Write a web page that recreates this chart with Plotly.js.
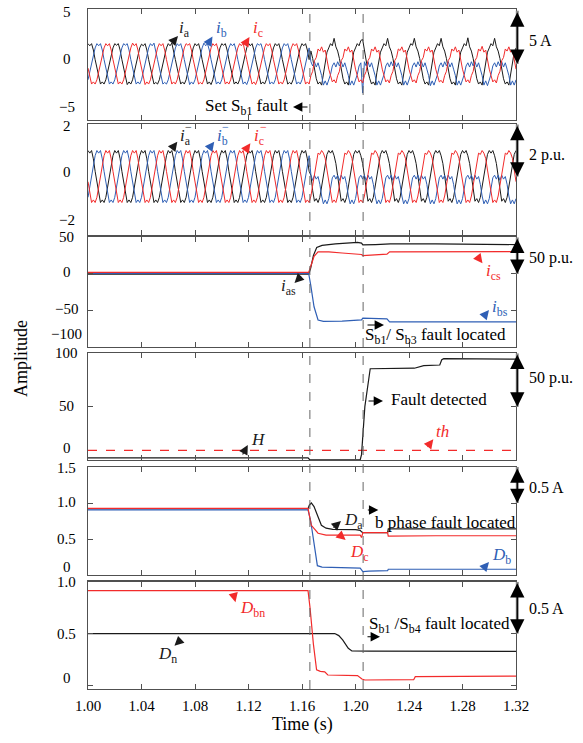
<!DOCTYPE html>
<html>
<head>
<meta charset="utf-8">
<script src="https://cdn.plot.ly/plotly-3.0.1.min.js"></script>
<style>html,body{margin:0;padding:0;background:#fff}#chart{width:583px;height:743px}</style>
</head>
<body>
<div id="chart"></div>
<script>
// ---------------- DATA ----------------
// sampling step of the phase-current waveforms (15 samples per 50 Hz cycle)
const DT = 0.02 / 15;
const T0 = 1.0;

// Panel 1: phase currents (A)
const ia1 = [
 1.9,1.7,1.9,1.3,0.4,-0.4,-1.3,-1.9,-1.7,-1.9,-1.5,-0.7,0,0.7,1.5,
 1.9,1.75,1.9,1.3,0.4,-0.4,-1.3,-1.95,-1.7,-1.9,-1.5,-0.7,0,0.7,1.5,
 1.85,1.7,1.9,1.3,0.4,-0.4,-1.3,-1.9,-1.75,-1.9,-1.5,-0.7,0,0.7,1.5,
 1.9,1.7,1.95,1.3,0.4,-0.4,-1.3,-1.9,-1.7,-1.9,-1.5,-0.7,0,0.7,1.5,
 1.9,1.7,1.9,1.3,0.4,-0.4,-1.3,-1.9,-1.7,-1.95,-1.5,-0.7,0,0.7,1.5,
 1.9,1.75,1.9,1.3,0.4,-0.4,-1.3,-1.9,-1.7,-1.9,-1.5,-0.7,0,0.7,1.5,
 1.95,1.7,1.9,1.3,0.4,-0.4,-1.3,-1.9,-1.7,-1.9,-1.5,-0.7,0,0.7,1.5,
 1.9,1.7,1.9,1.3,0.4,-0.4,-1.3,-1.9,-1.75,-1.9,-1.5,-0.7,0,0.7,1.5,
 1.9,1.7,1.9,1.3,0.4,
 1.2,0.5,-0.7,-1.4,-1.9,-1.7,-2.0,-0.8,0.4,1.1,
 1.5,1.9,1.7,2.4,1.6,1.2,0.5,-0.7,-1.4,-1.9,-1.7,-2.0,-0.8,0.4,1.1,
 1.5,1.9,1.7,2.2,2.3,1.2,0.5,-0.7,-1.4,-1.9,-1.7,-2.0,-0.8,0.4,1.1,
 1.5,1.9,1.7,2.4,1.6,1.2,0.5,-0.7,-1.4,-1.9,-1.7,-2.0,-0.8,0.4,1.1,
 1.5,1.9,1.75,2.4,1.6,1.2,0.5,-0.7,-1.4,-1.9,-1.7,-2.0,-0.8,0.4,1.1,
 1.5,1.9,1.7,2.4,1.6,1.2,0.5,-0.7,-1.4,-1.9,-1.7,-2.0,-0.8,0.4,1.1,
 1.5,1.9,1.7,2.45,1.6,1.2,0.5,-0.7,-1.4,-1.9,-1.7,-2.0,-0.8,0.4,1.1,
 1.5,1.9,1.7,2.4,1.6,1.2,0.5,-0.7,-1.4,-1.9,-1.7,-2.0,-0.8,0.4,1.1,
 1.5
];
const ib1 = [
 -1.5,-0.7,0,0.7,1.5,1.9,1.7,1.9,1.3,0.4,-0.4,-1.3,-1.9,-1.7,-1.9,
 -1.5,-0.7,0,0.7,1.5,1.9,1.75,1.9,1.3,0.4,-0.4,-1.3,-1.9,-1.7,-1.9,
 -1.5,-0.7,0,0.7,1.5,1.9,1.7,1.95,1.3,0.4,-0.4,-1.3,-1.9,-1.75,-1.9,
 -1.5,-0.7,0,0.7,1.5,1.9,1.7,1.9,1.3,0.4,-0.4,-1.3,-1.95,-1.7,-1.9,
 -1.5,-0.7,0,0.7,1.5,1.95,1.7,1.9,1.3,0.4,-0.4,-1.3,-1.9,-1.7,-1.9,
 -1.5,-0.7,0,0.7,1.5,1.9,1.7,1.9,1.3,0.4,-0.4,-1.3,-1.9,-1.7,-1.95,
 -1.5,-0.7,0,0.7,1.5,1.9,1.75,1.9,1.3,0.4,-0.4,-1.3,-1.9,-1.7,-1.9,
 -1.5,-0.7,0,0.7,1.5,1.9,1.7,1.9,1.3,0.4,-0.4,-1.3,-1.9,-1.7,-1.9,
 -1.5,-0.7,0,0.7,1.5,
 0.2,-0.2,0.2,-0.3,0.1,-0.5,-1.1,-2.0,-1.6,-2.0,
 -1.5,-1.0,-0.2,0.1,-0.3,0.2,-0.2,0.2,-0.3,0.1,-0.5,-1.1,-2.0,-1.6,-2.0,
 -1.5,-1.0,-0.2,0.1,-2.75,0.2,-0.2,0.2,-0.3,0.1,-0.5,-1.1,-2.0,-1.6,-2.0,
 -1.5,-1.0,-0.2,0.1,-0.3,0.2,-0.2,0.2,-0.3,0.1,-0.5,-1.1,-2.0,-1.6,-2.0,
 -1.5,-1.0,-0.2,0.1,-0.3,0.2,-0.2,0.2,-0.3,0.1,-0.5,-1.1,-2.05,-1.6,-2.0,
 -1.5,-1.0,-0.2,0.1,-0.3,0.2,-0.2,0.2,-0.3,0.1,-0.5,-1.1,-2.0,-1.6,-2.0,
 -1.5,-1.0,-0.2,0.1,-0.3,0.2,-0.2,0.2,-0.3,0.1,-0.5,-1.1,-2.0,-1.6,-2.05,
 -1.5,-1.0,-0.2,0.1,-0.3,0.2,-0.2,0.2,-0.3,0.1,-0.5,-1.1,-2.0,-1.6,-2.0,
 -1.5
];
const ic1 = [
 -0.4,-1.3,-1.9,-1.7,-1.9,-1.5,-0.7,0,0.7,1.5,1.9,1.7,1.9,1.3,0.4,
 -0.4,-1.3,-1.9,-1.7,-1.9,-1.5,-0.7,0,0.7,1.5,1.95,1.7,1.9,1.3,0.4,
 -0.4,-1.3,-1.95,-1.7,-1.9,-1.5,-0.7,0,0.7,1.5,1.9,1.7,1.9,1.3,0.4,
 -0.4,-1.3,-1.9,-1.7,-1.9,-1.5,-0.7,0,0.7,1.5,1.9,1.75,1.9,1.3,0.4,
 -0.4,-1.3,-1.9,-1.75,-1.9,-1.5,-0.7,0,0.7,1.5,1.9,1.7,1.9,1.3,0.4,
 -0.4,-1.3,-1.9,-1.7,-1.9,-1.5,-0.7,0,0.7,1.5,1.9,1.7,1.95,1.3,0.4,
 -0.4,-1.3,-1.9,-1.7,-1.95,-1.5,-0.7,0,0.7,1.5,1.9,1.7,1.9,1.3,0.4,
 -0.4,-1.3,-1.9,-1.7,-1.9,-1.5,-0.7,0,0.7,1.5,1.9,1.7,1.9,1.3,0.4,
 -0.4,-1.3,-1.9,-1.7,-1.9,
 -1.1,-0.7,0.3,0.6,1.4,1.2,1.6,1.1,1.3,0.3,
 -0.5,-1.1,-1.7,-1.5,-1.8,-1.1,-0.7,0.3,0.6,1.4,1.2,1.6,1.1,1.3,0.3,
 -0.5,-1.1,-1.7,-1.5,-1.8,-1.1,-0.7,0.3,0.6,1.4,1.2,1.6,1.1,1.3,0.3,
 -0.5,-1.1,-1.7,-1.5,-1.8,-1.1,-0.7,0.3,0.6,1.4,1.25,1.6,1.1,1.3,0.3,
 -0.5,-1.1,-1.7,-1.5,-1.8,-1.1,-0.7,0.3,0.6,1.4,1.2,1.6,1.1,1.3,0.3,
 -0.5,-1.1,-1.7,-1.55,-1.8,-1.1,-0.7,0.3,0.6,1.4,1.2,1.6,1.1,1.3,0.3,
 -0.5,-1.1,-1.7,-1.5,-1.8,-1.1,-0.7,0.3,0.6,1.4,1.2,1.65,1.1,1.3,0.3,
 -0.5,-1.1,-1.7,-1.5,-1.8,-1.1,-0.7,0.3,0.6,1.4,1.2,1.6,1.1,1.3,0.3,
 -0.5
];

// Panel 2: normalised phase currents (p.u.)
const ia2 = [
 1.0,0.9,1.0,0.68,0.2,-0.2,-0.68,-1.0,-0.9,-1.0,-0.8,-0.37,0,0.37,0.8,
 1.0,0.9,1.0,0.68,0.2,-0.2,-0.68,-1.0,-0.9,-1.0,-0.8,-0.37,0,0.37,0.8,
 1.0,0.9,1.0,0.68,0.2,-0.2,-0.68,-1.0,-0.9,-1.0,-0.8,-0.37,0,0.37,0.8,
 1.0,0.9,1.0,0.68,0.2,-0.2,-0.68,-1.0,-0.9,-1.0,-0.8,-0.37,0,0.37,0.8,
 1.0,0.9,1.0,0.68,0.2,-0.2,-0.68,-1.0,-0.9,-1.0,-0.8,-0.37,0,0.37,0.8,
 1.0,0.9,1.0,0.68,0.2,-0.2,-0.68,-1.0,-0.9,-1.0,-0.8,-0.37,0,0.37,0.8,
 1.0,0.9,1.0,0.68,0.2,-0.2,-0.68,-1.0,-0.9,-1.0,-0.8,-0.37,0,0.37,0.8,
 1.0,0.9,1.0,0.68,0.2,-0.2,-0.68,-1.0,-0.9,-1.0,-0.8,-0.37,0,0.37,0.8,
 1.0,0.9,1.0,0.68,0.2,
 0.05,-0.55,-0.95,-0.85,-1.0,-0.8,-0.4,0.05,0.45,0.85,
 1.0,0.9,1.0,0.8,0.5,0.05,-0.55,-0.95,-0.85,-1.0,-0.8,-0.4,0.05,0.45,0.85,
 1.0,0.9,1.0,0.8,0.5,0.05,-0.55,-0.95,-0.85,-1.0,-0.8,-0.4,0.05,0.45,0.85,
 1.0,0.9,1.0,0.8,0.5,0.05,-0.55,-0.95,-0.85,-1.0,-0.8,-0.4,0.05,0.45,0.85,
 1.0,0.9,1.0,0.8,0.5,0.05,-0.55,-0.95,-0.85,-1.0,-0.8,-0.4,0.05,0.45,0.85,
 1.0,0.9,1.0,0.8,0.5,0.05,-0.55,-0.95,-0.85,-1.0,-0.8,-0.4,0.05,0.45,0.85,
 1.0,0.9,1.0,0.8,0.5,0.05,-0.55,-0.95,-0.85,-1.0,-0.8,-0.4,0.05,0.45,0.85,
 1.0,0.9,1.0,0.8,0.5,0.05,-0.55,-0.95,-0.85,-1.0,-0.8,-0.4,0.05,0.45,0.85,
 1.0
];
const ib2 = [
 -0.8,-0.37,0,0.37,0.8,1.0,0.9,1.0,0.68,0.2,-0.2,-0.68,-1.0,-0.9,-1.0,
 -0.8,-0.37,0,0.37,0.8,1.0,0.9,1.0,0.68,0.2,-0.2,-0.68,-1.0,-0.9,-1.0,
 -0.8,-0.37,0,0.37,0.8,1.0,0.9,1.0,0.68,0.2,-0.2,-0.68,-1.0,-0.9,-1.0,
 -0.8,-0.37,0,0.37,0.8,1.0,0.9,1.0,0.68,0.2,-0.2,-0.68,-1.0,-0.9,-1.0,
 -0.8,-0.37,0,0.37,0.8,1.0,0.9,1.0,0.68,0.2,-0.2,-0.68,-1.0,-0.9,-1.0,
 -0.8,-0.37,0,0.37,0.8,1.0,0.9,1.0,0.68,0.2,-0.2,-0.68,-1.0,-0.9,-1.0,
 -0.8,-0.37,0,0.37,0.8,1.0,0.9,1.0,0.68,0.2,-0.2,-0.68,-1.0,-0.9,-1.0,
 -0.8,-0.37,0,0.37,0.8,1.0,0.9,1.0,0.68,0.2,-0.2,-0.68,-1.0,-0.9,-1.0,
 -0.8,-0.37,0,0.37,0.8,
 0.05,-0.15,0.05,-0.1,0.0,-0.3,-0.75,-1.05,-0.9,-1.05,
 -0.85,-0.45,-0.05,0.05,-0.1,0.05,-0.15,0.05,-0.1,0.0,-0.3,-0.75,-1.05,-0.9,-1.05,
 -0.85,-0.45,-0.05,0.05,-0.1,0.05,-0.15,0.05,-0.1,0.0,-0.3,-0.75,-1.05,-0.9,-1.05,
 -0.85,-0.45,-0.05,0.05,-0.1,0.05,-0.15,0.05,-0.1,0.0,-0.3,-0.75,-1.05,-0.9,-1.05,
 -0.85,-0.45,-0.05,0.05,-0.1,0.05,-0.15,0.05,-0.1,0.0,-0.3,-0.75,-1.05,-0.9,-1.05,
 -0.85,-0.45,-0.05,0.05,-0.1,0.05,-0.15,0.05,-0.1,0.0,-0.3,-0.75,-1.05,-0.9,-1.05,
 -0.85,-0.45,-0.05,0.05,-0.1,0.05,-0.15,0.05,-0.1,0.0,-0.3,-0.75,-1.05,-0.9,-1.05,
 -0.85,-0.45,-0.05,0.05,-0.1,0.05,-0.15,0.05,-0.1,0.0,-0.3,-0.75,-1.05,-0.9,-1.05,
 -0.85
];
const ic2 = [
 -0.2,-0.68,-1.0,-0.9,-1.0,-0.8,-0.37,0,0.37,0.8,1.0,0.9,1.0,0.68,0.2,
 -0.2,-0.68,-1.0,-0.9,-1.0,-0.8,-0.37,0,0.37,0.8,1.0,0.9,1.0,0.68,0.2,
 -0.2,-0.68,-1.0,-0.9,-1.0,-0.8,-0.37,0,0.37,0.8,1.0,0.9,1.0,0.68,0.2,
 -0.2,-0.68,-1.0,-0.9,-1.0,-0.8,-0.37,0,0.37,0.8,1.0,0.9,1.0,0.68,0.2,
 -0.2,-0.68,-1.0,-0.9,-1.0,-0.8,-0.37,0,0.37,0.8,1.0,0.9,1.0,0.68,0.2,
 -0.2,-0.68,-1.0,-0.9,-1.0,-0.8,-0.37,0,0.37,0.8,1.0,0.9,1.0,0.68,0.2,
 -0.2,-0.68,-1.0,-0.9,-1.0,-0.8,-0.37,0,0.37,0.8,1.0,0.9,1.0,0.68,0.2,
 -0.2,-0.68,-1.0,-0.9,-1.0,-0.8,-0.37,0,0.37,0.8,1.0,0.9,1.0,0.68,0.2,
 -0.2,-0.68,-1.0,-0.9,-1.0,
 -0.75,-0.35,0.1,0.5,0.9,0.85,1.0,0.9,0.7,0.25,
 -0.2,-0.6,-1.0,-0.9,-1.0,-0.75,-0.35,0.1,0.5,0.9,0.85,1.0,0.9,0.7,0.25,
 -0.2,-0.6,-1.0,-0.9,-1.0,-0.75,-0.35,0.1,0.5,0.9,0.85,1.0,0.9,0.7,0.25,
 -0.2,-0.6,-1.0,-0.9,-1.0,-0.75,-0.35,0.1,0.5,0.9,0.85,1.0,0.9,0.7,0.25,
 -0.2,-0.6,-1.0,-0.9,-1.0,-0.75,-0.35,0.1,0.5,0.9,0.85,1.0,0.9,0.7,0.25,
 -0.2,-0.6,-1.0,-0.9,-1.0,-0.75,-0.35,0.1,0.5,0.9,0.85,1.0,0.9,0.7,0.25,
 -0.2,-0.6,-1.0,-0.9,-1.0,-0.75,-0.35,0.1,0.5,0.9,0.85,1.0,0.9,0.7,0.25,
 -0.2,-0.6,-1.0,-0.9,-1.0,-0.75,-0.35,0.1,0.5,0.9,0.85,1.0,0.9,0.7,0.25,
 -0.2
];

// Panel 3: i_as, i_bs, i_cs (p.u.)
const tAs = [1.0, 1.165, 1.1665, 1.1685, 1.171, 1.175, 1.185, 1.195, 1.2015, 1.2045, 1.2055, 1.215, 1.2245, 1.226, 1.26, 1.3, 1.32];
const iAs = [-0.5, -0.5, 8, 25, 36, 39, 41, 42, 43, 42, 39.5, 40, 40.5, 41, 41, 40.5, 40];
const tCs = [1.0, 1.165, 1.1665, 1.169, 1.172, 1.18, 1.19, 1.2015, 1.2045, 1.2055, 1.215, 1.2235, 1.2255, 1.26, 1.32];
const iCs = [2, 2, 10, 24, 30, 30, 28.5, 27.5, 26.5, 25, 26.5, 27, 30, 30.5, 30.5];
const tBs = [1.0, 1.165, 1.1665, 1.169, 1.172, 1.176, 1.19, 1.2015, 1.2045, 1.2055, 1.215, 1.2235, 1.2255, 1.26, 1.32];
const iBs = [0.5, 0.5, -15, -45, -63, -65, -64.5, -64, -63, -60.5, -61, -61.5, -65.5, -65.5, -65.5];

// Panel 4: H and threshold th
const tH = [1.0, 1.1645, 1.166, 1.2035, 1.2045, 1.207, 1.211, 1.244, 1.251, 1.263, 1.2645, 1.266, 1.32];
const H  = [2, 2, 0, 0, 5, 50, 85.5, 86, 88.5, 89, 94, 95, 94.5];
const tTh = [1.0, 1.32];
const th  = [9, 9];

// Panel 5: D_a, D_b, D_c
const tDa = [1.0, 1.1645, 1.1655, 1.167, 1.169, 1.171, 1.1745, 1.178, 1.183, 1.2, 1.2035, 1.2045, 1.2055, 1.224, 1.2245, 1.26, 1.32];
const Da  = [0.92, 0.92, 0.97, 1.0, 0.95, 0.86, 0.69, 0.65, 0.635, 0.63, 0.62, 0.6, 0.59, 0.59, 0.64, 0.64, 0.64];
const tDc = [1.0, 1.1645, 1.167, 1.172, 1.178, 1.2035, 1.2045, 1.2055, 1.224, 1.2245, 1.26, 1.32];
const Dc  = [0.925, 0.925, 0.69, 0.58, 0.555, 0.555, 0.52, 0.59, 0.59, 0.54, 0.545, 0.545];
const tDb = [1.0, 1.1645, 1.1665, 1.169, 1.1715, 1.175, 1.2, 1.2035, 1.2055, 1.21, 1.224, 1.2245, 1.32];
const Db  = [0.905, 0.905, 0.75, 0.4, 0.13, 0.11, 0.105, 0.095, 0.046, 0.055, 0.06, 0.08, 0.08];

// Panel 6: D_bn and D_n
const tDbn = [1.0, 1.1645, 1.166, 1.1685, 1.1709, 1.1737, 1.177, 1.1793, 1.2015, 1.2048, 1.207, 1.2435, 1.2447, 1.32];
const Dbn  = [0.913, 0.913, 0.75, 0.4, 0.15, 0.135, 0.13, 0.1, 0.095, 0.062, 0.052, 0.055, 0.084, 0.09];
const tDn = [1.0, 1.1845, 1.1875, 1.1904, 1.1946, 1.1973, 1.21, 1.32];
const Dn  = [0.5, 0.5, 0.48, 0.438, 0.358, 0.332, 0.33, 0.327];

// event times (dashed markers)
const eventTimes = [1.1659, 1.2057];

// tick values and labels
const xTicks = [1.00, 1.04, 1.08, 1.12, 1.16, 1.20, 1.24, 1.28, 1.32];
const xTickText = ['1.00','1.04','1.08','1.12','1.16','1.20','1.24','1.28','1.32'];
const y1Ticks = [-5, 0, 5];        const y1Text = ['\u22125', '0', '5'];
const y2Ticks = [-2, 0, 2];        const y2Text = ['\u22122', '0', '2'];
const y3Ticks = [-100, -50, 0, 50]; const y3Text = ['\u2212100', '\u221250', '0', '50'];
const y4Ticks = [0, 50, 100];      const y4Text = ['0', '50', '100'];
const y5Ticks = [0, 0.5, 1.0, 1.5]; const y5Text = ['0', '0.5', '1.0', '1.5'];
const y6Ticks = [0, 0.5, 1.0];     const y6Text = ['0', '0.5', '1.0'];

// ---------------- STYLE / LAYOUT ----------------
const FONT = '"Liberation Serif", "Times New Roman", Times, "DejaVu Serif", serif';
const BLACK = '#1a1a1a', BLUE = '#2f5fb5', RED = '#f22b2b';
const tWave = ia1.map((_, k) => T0 + k * DT);

function tr(x, y, ax, color, w, dash) {
  return {x: x, y: y, xaxis: 'x' + ax, yaxis: 'y' + ax, type: 'scatter', mode: 'lines',
          line: {color: color, width: w || 1, dash: dash || 'solid'}, hoverinfo: 'skip'};
}
const data = [
  tr(tWave, ia1, '', BLACK), tr(tWave, ib1, '', BLUE), tr(tWave, ic1, '', RED),
  tr(tWave, ia2, 2, BLACK), tr(tWave, ib2, 2, BLUE), tr(tWave, ic2, 2, RED),
  tr(tAs, iAs, 3, BLACK, 1.2), tr(tBs, iBs, 3, BLUE, 1.2), tr(tCs, iCs, 3, RED, 1.2),
  tr(tTh, th, 4, RED, 1.2, 'dash'), tr(tH, H, 4, BLACK, 1.2),
  tr(tDa, Da, 5, BLACK, 1.2), tr(tDb, Db, 5, BLUE, 1.2), tr(tDc, Dc, 5, RED, 1.2),
  tr(tDn, Dn, 6, BLACK, 1.2), tr(tDbn, Dbn, 6, RED, 1.2)
];

const AX = '#505050';
function xa(n) {
  return {range: [1.0, 1.32], tickmode: 'array', tickvals: xTicks, ticktext: xTickText,
    ticks: 'inside', ticklen: 5, tickcolor: AX, tickwidth: 1,
    showline: true, linecolor: AX, linewidth: 1.3, mirror: 'ticks',
    showgrid: false, zeroline: false, showticklabels: n === 6,
    anchor: 'y' + (n === 1 ? '' : n), tickfont: {family: FONT, size: 15}, ticklabelstandoff: 3};
}
function ya(n, dom, rng, vals, showTicks) {
  return {domain: dom, range: rng, tickmode: 'array', tickvals: vals,
    ticks: showTicks ? 'inside' : '', ticklen: 5, tickcolor: AX,
    showline: true, linecolor: AX, linewidth: 1.3, mirror: 'ticks',
    showgrid: false, zeroline: false, anchor: 'x' + (n === 1 ? '' : n),
    showticklabels: false};
}

const layout = {
  width: 583, height: 743,
  margin: {l: 88, r: 67, t: 9, b: 54},
  paper_bgcolor: '#fff', plot_bgcolor: '#fff',
  showlegend: false,
  font: {family: FONT, size: 15, color: '#000'},
  xaxis: xa(1), xaxis2: xa(2), xaxis3: xa(3), xaxis4: xa(4), xaxis5: xa(5), xaxis6: xa(6),
  yaxis:  ya(1, [0.8368, 1.0],    [-5.28, 5.16], y1Ticks, false),
  yaxis2: ya(2, [0.6676, 0.8309], [-2.25, 2.02], y2Ticks, false),
  yaxis3: ya(3, [0.5029, 0.6643], [-100, 50],   y3Ticks, true),
  yaxis4: ya(4, [0.3368, 0.4937], [0, 100],     y4Ticks, true),
  yaxis5: ya(5, [0.1676, 0.3265], [0, 1.5],     y5Ticks, true),
  yaxis6: ya(6, [0, 0.1578],      [-0.035, 1.0], y6Ticks, true),
  shapes: [], annotations: []
};

// y tick labels (placed with each axis' scale; edge labels nudged inward as in the original)
const yLabelSets = [
  ['y',  y1Ticks, y1Text, [10, 5, -1]],
  ['y2', y2Ticks, y2Text, [8.5, 4.5, -1.5]],
  ['y3', y3Ticks, y3Text, [13, 1.5, 2, 0]],
  ['y4', y4Ticks, y4Text, [12, 0.7, 0]],
  ['y5', y5Ticks, y5Text, [8, 0, 1, -1]],
  ['y6', y6Ticks, y6Text, [7.4, 0, 0]]
];
yLabelSets.forEach(s => s[1].forEach((v, i) => layout.annotations.push({
  xref: 'paper', yref: s[0], x: -0.0502, y: v, yshift: s[3][i], xanchor: 'center', yanchor: 'middle',
  text: s[2][i], showarrow: false, font: {family: FONT, size: 15}})));

// dashed event lines across all panels
eventTimes.forEach(t => layout.shapes.push({type: 'line', xref: 'x', yref: 'paper', x0: t, x1: t, y0: 0, y1: 1,
  line: {color: '#666', width: 1, dash: 'dash'}, layer: 'above'}));

// scale bars on the right: [yref, low, high, pixel length, label, label paper y]
const scaleBars = [
  ['y', 0, 5, 53, '5 A', 0.9544],
  ['y2', 0, 2, 52, '2 p.u.', 0.7853],
  ['y3', 0, 50, 36.6, '50 p.u.', 0.6338],
  ['y4', 50, 100, 53.4, '50 p.u.', 0.4574],
  ['y5', 1.0, 1.5, 36, '0.5 A', 0.2956],
  ['y6', 0.5, 1.0, 51.8, '0.5 A', 0.1191]
];
scaleBars.forEach(s => {
  layout.shapes.push({type: 'line', xref: 'paper', yref: s[0], x0: 1.003, x1: 1.003, y0: s[1], y1: s[2],
    line: {color: '#8a8a8a', width: 3}, layer: 'above'});
  layout.annotations.push({xref: 'paper', yref: s[0], x: 1.003, y: s[1], ax: 0, ay: -s[3],
    axref: 'pixel', ayref: 'pixel', text: '', showarrow: true, arrowside: 'end+start',
    arrowhead: 2, startarrowhead: 2, arrowsize: 2.2, startarrowsize: 2.2, arrowwidth: 1.3, arrowcolor: '#000'});
  layout.annotations.push({xref: 'paper', yref: 'paper', x: 1.0257, y: s[5], xanchor: 'left', yanchor: 'middle',
    text: s[4], showarrow: false, font: {family: FONT, size: 16}});
});

function txt(x, y, text, color, size) {
  layout.annotations.push({xref: 'paper', yref: 'paper', x: x, y: y, xanchor: 'left', yanchor: 'middle',
    text: text, showarrow: false, font: {family: FONT, size: size || 16, color: color || '#000'}});
}
function arr(x, y, ax, ay, color) {
  layout.annotations.push({xref: 'paper', yref: 'paper', x: x, y: y, ax: ax, ay: ay, text: '',
    showarrow: true, arrowhead: 2, arrowsize: 1.7, arrowwidth: 1.1, arrowcolor: color || '#000', standoff: 0});
}

// Panel 1 labels
txt(0.2079, 0.9706, '<i>i</i><sub>a</sub>', BLACK, 17);
arr(0.2103, 0.9603, -7, 8, BLACK);
txt(0.2944, 0.9706, '<i>i</i><sub>b</sub>', BLUE, 17);
arr(0.2909, 0.9596, -5, 8, BLUE);
txt(0.3808, 0.9706, '<i>i</i><sub>c</sub>', RED, 17);
arr(0.3773, 0.9588, -5, 8, RED);
txt(0.2687, 0.8559, 'Set S<sub>b1</sub> fault', '#000', 17);
arr(0.4790, 0.8559, 16, 0, '#000');

// Panel 2 labels
txt(0.2103, 0.8118, '<i>i</i><sub>a</sub>', BLACK, 17);
txt(0.2230, 0.8270, '\u2212', BLACK, 12);
arr(0.2086, 0.8049, -6, 8, BLACK);
txt(0.2967, 0.8118, '<i>i</i><sub>b</sub>', BLUE, 17);
txt(0.3094, 0.8270, '\u2212', BLUE, 12);
arr(0.2949, 0.8049, -6, 8, BLUE);
txt(0.3843, 0.8118, '<i>i</i><sub>c</sub>', RED, 17);
txt(0.3970, 0.8270, '\u2212', RED, 12);
arr(0.3794, 0.8025, -5, 7, RED);

// Panel 3 labels
txt(0.4463, 0.5912, '<i>i</i><sub>as</sub>', BLACK, 17);
arr(0.4825, 0.5971, 8, -8, BLACK);
txt(0.9264, 0.6132, '<i>i</i><sub>cs</sub>', RED, 17);
arr(0.9217, 0.6260, -6, -8, RED);
txt(0.9393, 0.5603, '<i>i</i><sub>bs</sub>', BLUE, 17);
arr(0.9369, 0.5574, -6.5, 8, BLUE);
txt(0.6425, 0.5191, 'S<sub>b1</sub>/ S<sub>b3</sub> fault located', '#000', 17);
arr(0.6916, 0.5353, -18, 0, '#000');

// Panel 4 labels
txt(0.7033, 0.4250, 'Fault detected', '#000', 17);
arr(0.6893, 0.4235, -16, 0, '#000');
txt(0.3762, 0.3662, '<i>H</i>', BLACK, 17);
arr(0.3734, 0.3588, -6, 11, BLACK);
txt(0.8084, 0.3784, '<i>th</i>', RED, 17);
arr(0.8068, 0.3672, -7, 9, RED);

// Panel 5 labels
txt(0.5935, 0.2471, '<i>D</i><sub>a</sub>', BLACK, 17);
arr(0.5911, 0.2471, -9, 8, BLACK);
txt(0.6075, 0.2000, '<i>D</i><sub>c</sub>', RED, 17);
arr(0.6020, 0.2190, -7, -6, RED);
txt(0.9393, 0.1956, '<i>D</i><sub>b</sub>', BLUE, 17);
arr(0.9369, 0.1868, -6, 7, BLUE);
txt(0.6659, 0.2449, 'b phase fault located', '#000', 17);
arr(0.6783, 0.2632, -12, 0, '#000');

// Panel 6 labels
txt(0.3505, 0.1176, '<i>D</i><sub>bn</sub>', RED, 17);
arr(0.3446, 0.1275, -2.5, -10, RED);
txt(0.1589, 0.0500, '<i>D</i><sub>n</sub>', BLACK, 17);
arr(0.2019, 0.0637, 7, -6.5, BLACK);
txt(0.6519, 0.0941, 'S<sub>b1</sub> /S<sub>b4</sub> fault located', '#000', 17);
arr(0.6822, 0.0769, -14, 0, '#000');

// axis titles
layout.annotations.push({xref: 'paper', yref: 'paper', x: -0.1565, y: 0.4853, text: 'Amplitude',
  textangle: -90, showarrow: false, xanchor: 'center', yanchor: 'middle', font: {family: FONT, size: 18}});
layout.annotations.push({xref: 'paper', yref: 'paper', x: 0.5, y: -0.0515, text: 'Time (s)',
  showarrow: false, xanchor: 'center', yanchor: 'middle', font: {family: FONT, size: 18}});

Plotly.newPlot('chart', data, layout, {displayModeBar: false, staticPlot: true});
</script>
</body>
</html>
